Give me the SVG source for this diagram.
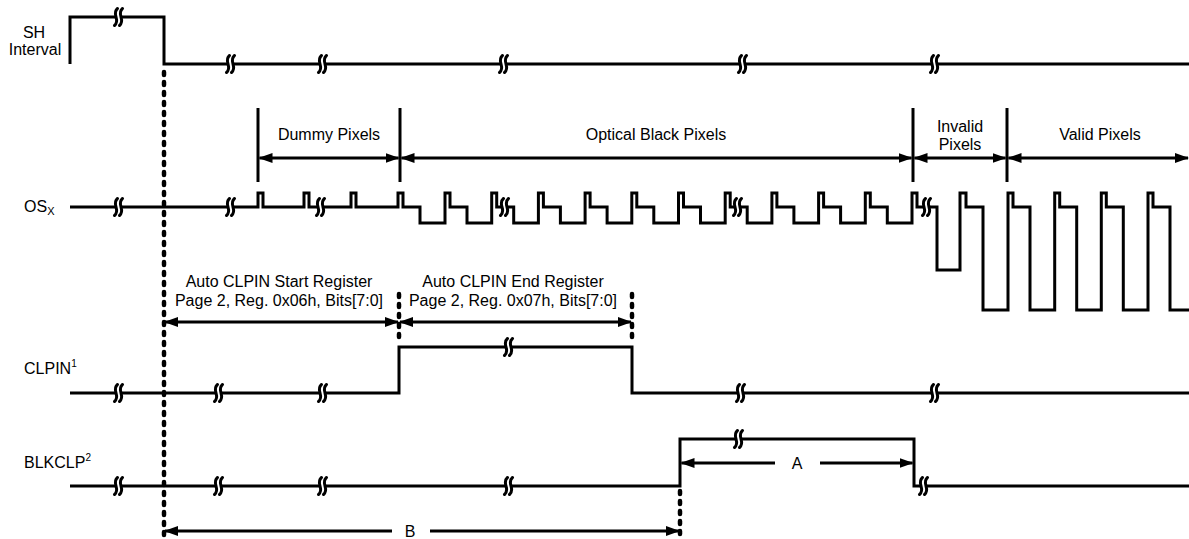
<svg xmlns="http://www.w3.org/2000/svg" xmlns:xlink="http://www.w3.org/1999/xlink" width="1189" height="539" viewBox="0 0 1189 539">
<style>
.w{fill:none;stroke:#000;stroke-width:3;stroke-linejoin:miter}
.t{font-family:"Liberation Sans",Arial,sans-serif;font-size:16px;fill:#000}
.m{text-anchor:middle}
.dot{fill:none;stroke:#000;stroke-width:4.5;stroke-dasharray:3 7;stroke-linecap:round}
.sep{stroke:#000;stroke-width:3}
.dim{stroke:#000;stroke-width:3;fill:none}
.b2{marker-start:url(#ah);marker-end:url(#ah)}
.bs{marker-start:url(#ah)}
.be{marker-end:url(#ah)}
.ss{fill:none;stroke:#000;stroke-width:3;stroke-linecap:round}
</style>
<defs>
<marker id="ah" viewBox="0 0 14 10" refX="13" refY="5" markerWidth="14" markerHeight="10" markerUnits="userSpaceOnUse" orient="auto-start-reverse">
<path d="M0,0 L14,5 L0,10 z" fill="#000"/>
</marker>
<g id="brk">
<rect x="-0.5" y="-3" width="5" height="6" fill="#fff"/>
<path class="ss" d="M1.5,-8.5 C-5,-3 5,3 -1.5,8.5 M6.5,-8.5 C0,-3 10,3 3.5,8.5"/>
</g>
</defs>
<rect width="1189" height="539" fill="#fff"/>

<g id="sh-interval">
<text class="t m" x="34" y="38">SH</text>
<text class="t m" x="35" y="55">Interval</text>
<path class="w" d="M70,64 V17 H164 V64 H1189"/>
<use xlink:href="#brk" x="116" y="17"/>
<use xlink:href="#brk" x="228" y="64"/>
<use xlink:href="#brk" x="320" y="64"/>
<use xlink:href="#brk" x="501" y="64"/>
<use xlink:href="#brk" x="740" y="64"/>
<use xlink:href="#brk" x="932" y="64"/>
</g>

<g id="osx">
<text class="t" x="24" y="212">OS<tspan font-size="11" dy="3">X</tspan></text>
<path class="w" d="M70,207 H258 V193 H263 V207 H304 V193 H309 V207 H351 V193 H356 V207 H398 V193 H403 V207 H420 V223 H445 V193 H450 V207 H467 V223 H491.7 V193 H496.7 V207 H513.7 V223 H538.4 V193 H543.4 V207 H560.4 V223 H585.1 V193 H590.1 V207 H607.1 V223 H631.8 V193 H636.8 V207 H653.8 V223 H678.5 V193 H683.5 V207 H700.5 V223 H725.2 V193 H730.2 V207 H747.2 V223 H771.9 V193 H776.9 V207 H793.9 V223 H818.6 V193 H823.6 V207 H840.6 V223 H865.3 V193 H870.3 V207 H887.3 V223 H912 V193 H917 V207 H937 V270 H960 V193 H966 V207 H983 V310 H1008 V193 H1013 V207 H1030 V310 H1054.7 V193 H1059.7 V207 H1076.7 V310 H1101.3 V193 H1106.3 V207 H1123.3 V310 H1148 V193 H1153 V207 H1170 V310 H1190"/>
<use xlink:href="#brk" x="116" y="207"/>
<use xlink:href="#brk" x="228" y="207"/>
<use xlink:href="#brk" x="318" y="207"/>
<use xlink:href="#brk" x="502" y="207"/>
<use xlink:href="#brk" x="735" y="207"/>
<use xlink:href="#brk" x="924" y="207"/>
<line class="sep" x1="258" y1="108" x2="258" y2="182"/>
<line class="sep" x1="400" y1="108" x2="400" y2="182"/>
<line class="sep" x1="913" y1="108" x2="913" y2="182"/>
<line class="sep" x1="1007" y1="108" x2="1007" y2="182"/>
<text class="t m" x="329" y="140">Dummy Pixels</text>
<text class="t m" x="656" y="140">Optical Black Pixels</text>
<text class="t m" x="960" y="132">Invalid</text>
<text class="t m" x="960" y="150">Pixels</text>
<text class="t m" x="1100" y="140">Valid Pixels</text>
</g>

<g id="clpin">
<text class="t" x="24" y="374">CLPIN<tspan font-size="10" dy="-7">1</tspan></text>
<path class="w" d="M70,393 H399 V347 H632 V393 H1189"/>
<use xlink:href="#brk" x="116" y="393"/>
<use xlink:href="#brk" x="216" y="393"/>
<use xlink:href="#brk" x="320" y="393"/>
<use xlink:href="#brk" x="506" y="347"/>
<use xlink:href="#brk" x="738" y="393"/>
<use xlink:href="#brk" x="932" y="393"/>
<text class="t m" x="279" y="287">Auto CLPIN Start Register</text>
<text class="t m" x="279" y="306">Page 2, Reg. 0x06h, Bits[7:0]</text>
<text class="t m" x="513" y="287">Auto CLPIN End Register</text>
<text class="t m" x="513" y="306">Page 2, Reg. 0x07h, Bits[7:0]</text>
</g>

<g id="blkclp">
<text class="t" x="24" y="468">BLKCLP<tspan font-size="10" dy="-7">2</tspan></text>
<path class="w" d="M70,486 H680 V439 H914 V486 H1189"/>
<use xlink:href="#brk" x="116" y="486"/>
<use xlink:href="#brk" x="216" y="486"/>
<use xlink:href="#brk" x="320" y="486"/>
<use xlink:href="#brk" x="506" y="486"/>
<use xlink:href="#brk" x="736" y="439"/>
<use xlink:href="#brk" x="921" y="486"/>
<text class="t m" x="797" y="469">A</text>
<text class="t m" x="410" y="537">B</text>
</g>

<g id="connectors">
<line class="dot" x1="164" y1="72" x2="164" y2="537"/>
<line class="dot" x1="399" y1="294" x2="399" y2="344"/>
<line class="dot" x1="632" y1="294" x2="632" y2="344"/>
<line class="dot" x1="680" y1="491" x2="680" y2="537"/>
<line class="dim b2" x1="259.5" y1="158" x2="398.5" y2="158"/>
<line class="dim b2" x1="401.5" y1="158" x2="911.5" y2="158"/>
<line class="dim b2" x1="914.5" y1="158" x2="1005.5" y2="158"/>
<line class="dim b2" x1="1008.5" y1="158" x2="1188" y2="158"/>
<line class="dim b2" x1="165" y1="322" x2="398" y2="322"/>
<line class="dim b2" x1="400" y1="322" x2="631" y2="322"/>
<line class="dim bs" x1="681.5" y1="463" x2="775" y2="463"/>
<line class="dim be" x1="820" y1="463" x2="912.5" y2="463"/>
<line class="dim bs" x1="165" y1="531" x2="392" y2="531"/>
<line class="dim be" x1="430" y1="531" x2="679" y2="531"/>
</g>
</svg>
